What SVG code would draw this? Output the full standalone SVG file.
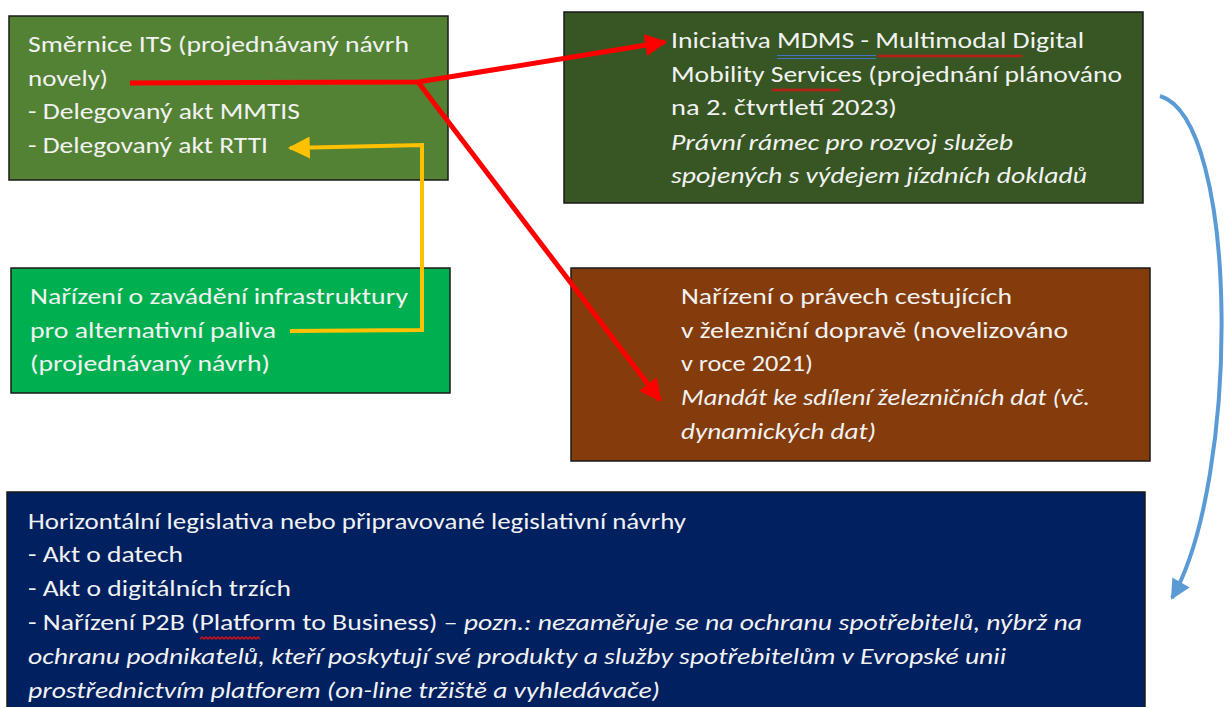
<svg xmlns="http://www.w3.org/2000/svg" width="1231" height="707" viewBox="0 0 1231 707">
<defs>
<style>
.box{stroke:#1a1a1a;stroke-width:1.5}
.t{font-family:Carlito,"Liberation Sans",sans-serif;font-size:21.5px;fill:#f2f2f2}
.i{font-style:italic}
.wavy{fill:none;stroke:#e01010;stroke-width:1.3}
</style>
<marker id="ar" viewBox="0 0 10 10" refX="9" refY="5" markerWidth="5" markerHeight="4.4" orient="auto" markerUnits="strokeWidth"><path d="M0,0 L10,5 L0,10 z" fill="#ff0000"/></marker>
<marker id="ay" viewBox="0 0 10 10" refX="9" refY="5" markerWidth="6" markerHeight="5.5" orient="auto" markerUnits="strokeWidth"><path d="M0,0 L10,5 L0,10 z" fill="#ffc000"/></marker>
<marker id="ab" viewBox="0 0 10 10" refX="9" refY="5" markerWidth="5.5" markerHeight="5" orient="auto" markerUnits="strokeWidth"><path d="M0,0 L10,5 L0,10 z" fill="#5b9bd5"/></marker>
</defs>
<rect width="1231" height="707" fill="#ffffff"/>

<g id="node-its">
<rect class="box" x="9" y="16" width="439" height="164" fill="#548235"/>
<text class="t" x="28" y="52" textLength="381" lengthAdjust="spacingAndGlyphs">Směrnice ITS (projednávaný návrh</text>
<text class="t" x="28" y="86" textLength="80" lengthAdjust="spacingAndGlyphs">novely)</text>
<text class="t" x="28" y="119" textLength="272" lengthAdjust="spacingAndGlyphs">- Delegovaný akt MMTIS</text>
<text class="t" x="28" y="153" textLength="240" lengthAdjust="spacingAndGlyphs">- Delegovaný akt RTTI</text>
</g>

<g id="node-mdms">
<rect class="box" x="564" y="12" width="579" height="191" fill="#375623"/>
<text class="t" x="671" y="48" textLength="413" lengthAdjust="spacingAndGlyphs">Iniciativa MDMS - Multimodal Digital</text>
<text class="t" x="671" y="82" textLength="451" lengthAdjust="spacingAndGlyphs">Mobility Services (projednání plánováno</text>
<text class="t" x="671" y="115" textLength="226" lengthAdjust="spacingAndGlyphs">na 2. čtvrtletí 2023)</text>
<text class="t i" x="671" y="150" textLength="342" lengthAdjust="spacingAndGlyphs">Právní rámec pro rozvoj služeb</text>
<text class="t i" x="671" y="183" textLength="416" lengthAdjust="spacingAndGlyphs">spojených s výdejem jízdních dokladů</text>
<path d="M777,55.5 H876 M777,58.5 H876" stroke="#4472c4" stroke-width="1.2" fill="none"/>
<path class="wavy" d="M878,57 l2,-2 l2,2 l2,-2 l2,2 l2,-2 l2,2 l2,-2 l2,2 l2,-2 l2,2 l2,-2 l2,2 l2,-2 l2,2 l2,-2 l2,2 l2,-2 l2,2 l2,-2 l2,2 l2,-2 l2,2 l2,-2 l2,2 l2,-2 l2,2 l2,-2 l2,2 l2,-2 l2,2 l2,-2 l2,2 l2,-2 l2,2 l2,-2 l2,2 l2,-2 l2,2 l2,-2 l2,2 l2,-2 l2,2 l2,-2 l2,2 l2,-2 l2,2 l2,-2 l2,2 l2,-2 l2,2 l2,-2 l2,2 l2,-2 l2,2 l2,-2 l2,2 l2,-2 l2,2 l2,-2 l2,2 l2,-2 l2,2 l2,-2 l2,2 l2,-2 l2,2 l2,-2 l2,2 l2,-2 l2,2 l2,-2 l2,2"/>
<path class="wavy" d="M772,91 l2,-2 l2,2 l2,-2 l2,2 l2,-2 l2,2 l2,-2 l2,2 l2,-2 l2,2 l2,-2 l2,2 l2,-2 l2,2 l2,-2 l2,2 l2,-2 l2,2 l2,-2 l2,2 l2,-2 l2,2 l2,-2 l2,2 l2,-2 l2,2 l2,-2 l2,2 l2,-2 l2,2 l2,-2 l2,2 l2,-2 l2,2"/>
</g>

<g id="node-afir">
<rect class="box" x="11" y="268" width="439" height="125" fill="#00b050"/>
<text class="t" x="30" y="304" textLength="378" lengthAdjust="spacingAndGlyphs">Nařízení o zavádění infrastruktury</text>
<text class="t" x="30" y="338" textLength="246" lengthAdjust="spacingAndGlyphs">pro alternativní paliva</text>
<text class="t" x="30" y="371" textLength="240" lengthAdjust="spacingAndGlyphs">(projednávaný návrh)</text>
</g>

<g id="node-rail">
<rect class="box" x="571" y="268" width="579" height="193" fill="#843c0c"/>
<text class="t" x="681" y="304" textLength="331" lengthAdjust="spacingAndGlyphs">Nařízení o právech cestujících</text>
<text class="t" x="681" y="338" textLength="387" lengthAdjust="spacingAndGlyphs">v železniční dopravě (novelizováno</text>
<text class="t" x="681" y="371" textLength="132" lengthAdjust="spacingAndGlyphs">v roce 2021)</text>
<text class="t i" x="681" y="405" textLength="409" lengthAdjust="spacingAndGlyphs">Mandát ke sdílení železničních dat (vč.</text>
<text class="t i" x="681" y="439" textLength="195" lengthAdjust="spacingAndGlyphs">dynamických dat)</text>
</g>

<g id="node-horizontal">
<rect class="box" x="7" y="492" width="1138" height="220" fill="#002060"/>
<text class="t" x="28" y="529" textLength="658" lengthAdjust="spacingAndGlyphs">Horizontální legislativa nebo připravované legislativní návrhy</text>
<text class="t" x="28" y="562" textLength="155" lengthAdjust="spacingAndGlyphs">- Akt o datech</text>
<text class="t" x="28" y="596" textLength="263" lengthAdjust="spacingAndGlyphs">- Akt o digitálních trzích</text>
<text class="t" x="28" y="630" textLength="1054" lengthAdjust="spacingAndGlyphs">- Nařízení P2B (Platform to Business) – <tspan class="i">pozn.: nezaměřuje se na ochranu spotřebitelů, nýbrž na</tspan></text>
<text class="t i" x="28" y="664" textLength="978" lengthAdjust="spacingAndGlyphs">ochranu podnikatelů, kteří poskytují své produkty a služby spotřebitelům v Evropské unii</text>
<text class="t i" x="28" y="698" textLength="632" lengthAdjust="spacingAndGlyphs">prostřednictvím platforem (on-line tržiště a vyhledávače)</text>
<path class="wavy" d="M200,639 l2,-2 l2,2 l2,-2 l2,2 l2,-2 l2,2 l2,-2 l2,2 l2,-2 l2,2 l2,-2 l2,2 l2,-2 l2,2 l2,-2 l2,2 l2,-2 l2,2 l2,-2 l2,2 l2,-2 l2,2 l2,-2 l2,2 l2,-2 l2,2 l2,-2 l2,2 l2,-2 l2,2"/>
</g>

<g id="connectors" fill="none">
<path d="M130,83 L418,82 L665,42" stroke="#ff0000" stroke-width="5" stroke-linejoin="miter" marker-end="url(#ar)"/>
<path d="M418,82 L660,400" stroke="#ff0000" stroke-width="5" marker-end="url(#ar)"/>
<path d="M290,331 L422,330 L422,145 L290,148" stroke="#ffc000" stroke-width="4" stroke-linejoin="miter" marker-end="url(#ay)"/>
<path d="M1160,96 C1240,120 1240,480 1172,598" stroke="#5b9bd5" stroke-width="4" marker-end="url(#ab)"/>
</g>
</svg>
